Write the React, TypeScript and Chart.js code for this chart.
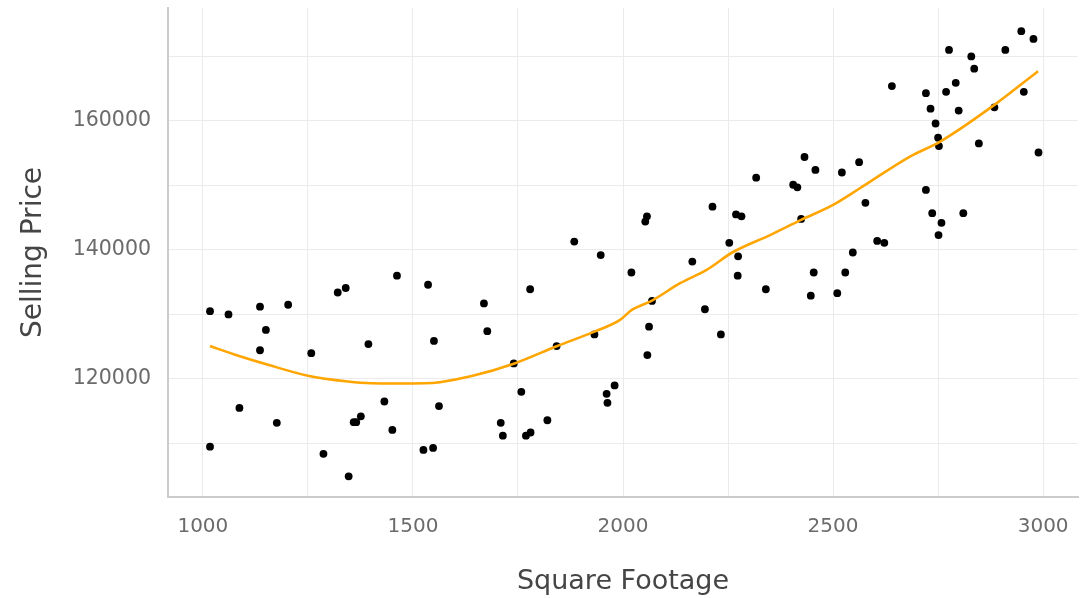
import React, { useEffect, useRef } from "react";
import { Chart, registerables } from "chart.js";

Chart.register(...registerables);

// Scatter data: square footage vs selling price
const SQFT = [
  1017, 1061, 1136, 1203, 1150, 1136, 1258, 1321, 1340, 1462, 1536, 1394, 1550,
  1087, 1176, 1017, 1287, 1347, 1359, 1365, 1376, 1432, 1451, 1525, 1548, 1562,
  1669, 1677, 1884, 1947, 1779, 2057, 2053, 2020, 2062, 2058, 2069, 1932, 1842,
  1740, 1758, 1709, 1714, 1769, 1780, 1820, 1961, 1963, 1980, 2253, 2165, 2274,
  2273, 2195, 2233,
  2213, 2269, 2282, 2317, 2340, 2432, 2458, 2405, 2415, 2424, 2454, 2447, 2521,
  2562, 2577, 2547, 2529, 2510, 2605, 2622,
  2640, 2721, 2732, 2744, 2750, 2752, 2721, 2736, 2758, 2751, 2810, 2769, 2776,
  2792, 2799, 2829, 2836, 2847, 2884, 2910, 2948, 2977, 2954, 2989,
];
const PRICE = [
  130500, 130000, 131200, 131500, 127600, 124450, 124000, 133400, 134100, 136000, 134600, 125400, 125900,
  115500, 113200, 109500, 108400, 104900, 113300, 113300, 114200, 116500, 112100, 109000, 109300, 115800,
  131700, 127400, 141300, 139200, 133900, 145200, 144400, 136500, 128100, 123700, 132100, 126900, 125100,
  122400, 118000, 113200, 111200, 111200, 111700, 113600, 117700, 116300, 119000, 141100, 138200, 139000,
  136000, 130800, 126900,
  146700, 145500, 145200, 151200, 133900, 154400, 152400, 150100, 149700, 144800, 136500, 132900, 152000,
  153600, 147300, 139600, 136500, 133300, 141400, 141100,
  165400, 164300, 161900, 159600, 157400, 156100, 149300, 145700, 144200, 142300, 145700, 164500, 171000,
  165900, 161600, 170000, 168100, 156500, 162100, 171000, 173900, 172700, 164500, 155100,
];

// Smoothed (loess) trend line
const TREND_X = [
  1017, 1075, 1155, 1250, 1345, 1400, 1460, 1528, 1564, 1640, 1740, 1842, 1932,
  1993, 2021, 2069, 2136, 2199, 2260, 2350, 2424, 2500, 2564, 2683, 2755, 2884, 2988,
];
const TREND_Y = [
  125100, 123800, 122200, 120500, 119600, 119330, 119300, 119330, 119500, 120450, 122370, 125070, 127330,
  129150, 130700, 132140, 134840, 136900, 139600, 142300, 144650, 146980, 149560, 154470, 156790, 162480, 167700,
];

const X_GRID = [1000, 1250, 1500, 1750, 2000, 2250, 2500, 2750, 3000];
const X_LABELS = [1000, 1500, 2000, 2500, 3000];
const Y_GRID = [110000, 120000, 130000, 140000, 150000, 160000, 170000];
const Y_LABELS = [120000, 140000, 160000];

const X_TITLE = "Square Footage";
const Y_TITLE = "Selling Price";

export default function App() {
  const canvasRef = useRef<HTMLCanvasElement | null>(null);

  useEffect(() => {
    const canvas = canvasRef.current;
    if (!canvas) return;
    const scatterData = SQFT.map((x, i) => ({ x, y: PRICE[i] }));
    const trendData = TREND_X.map((x, i) => ({ x, y: TREND_Y[i] }));
    const fontFamily = "'DejaVu Sans', sans-serif";

    const chart = new Chart(canvas, {
      type: "scatter",
      data: {
        datasets: [
          {
            type: "line",
            data: trendData,
            borderColor: "#FFA500",
            borderWidth: 2.6,
            pointRadius: 0,
            fill: false,
            cubicInterpolationMode: "monotone",
            order: 0,
          } as any,
          {
            type: "scatter",
            data: scatterData,
            backgroundColor: "#000000",
            borderWidth: 0,
            pointRadius: 3.9,
            order: 1,
          } as any,
        ],
      },
      options: {
        responsive: false,
        animation: false,
        layout: { autoPadding: false, padding: { left: 0, right: 5, top: 8, bottom: 0 } },
        plugins: {
          legend: { display: false },
          tooltip: { enabled: false },
        },
        scales: {
          x: {
            type: "linear",
            min: 917,
            max: 3083,
            afterFit: (scale: any) => {
              scale.height = 101;
              scale.paddingLeft = 0;
              scale.paddingRight = 0;
            },
            afterBuildTicks: (scale: any) => {
              scale.ticks = X_GRID.map((v) => ({ value: v }));
            },
            grid: { color: "#ebebeb", lineWidth: 1, drawTicks: false },
            border: { display: true, color: "#cccccc", width: 2 },
            ticks: {
              autoSkip: false,
              maxRotation: 0,
              padding: 18,
              color: "#6b6b6b",
              font: { family: fontFamily, size: 20 },
              callback: (v: any) => (X_LABELS.includes(Number(v)) ? String(v) : ""),
            },
            title: {
              display: true,
              text: X_TITLE,
              color: "#454545",
              font: { family: fontFamily, size: 27 },
              padding: { top: 0, bottom: 0 },
            },
          },
          y: {
            type: "linear",
            min: 101700,
            max: 177500,
            afterFit: (scale: any) => {
              scale.width = 168;
              scale.paddingTop = 0;
              scale.paddingBottom = 0;
            },
            afterBuildTicks: (scale: any) => {
              scale.ticks = Y_GRID.map((v) => ({ value: v }));
            },
            grid: { color: "#ebebeb", lineWidth: 1, drawTicks: false },
            border: { display: true, color: "#cccccc", width: 2 },
            ticks: {
              autoSkip: false,
              padding: 17,
              color: "#6b6b6b",
              font: { family: fontFamily, size: 20.5 },
              callback: (v: any) => (Y_LABELS.includes(Number(v)) ? String(v) : ""),
            },
            title: {
              display: true,
              text: Y_TITLE,
              color: "#454545",
              font: { family: fontFamily, size: 28 },
              padding: { top: 17, bottom: 17 },
            },
          },
        },
      },
    } as any);

    return () => {
      chart.destroy();
    };
  }, []);

  return (
    <div style={{ position: "fixed", left: 0, top: 0, width: 1083, height: 598, background: "#ffffff" }}>
      <canvas ref={canvasRef} width={1083} height={598} style={{ display: "block" }} />
    </div>
  );
}
